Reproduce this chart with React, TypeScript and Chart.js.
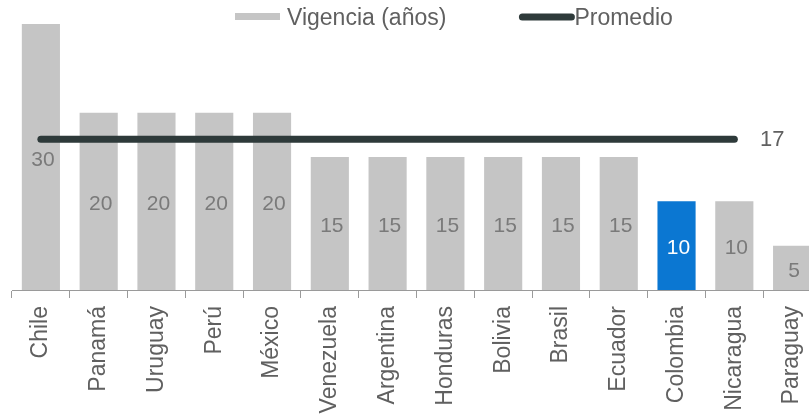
import React, { useEffect, useRef } from "react";
import { Chart, registerables } from "chart.js";

Chart.register(...registerables);

const categories = [
  "Chile", "Panamá", "Uruguay", "Perú", "México", "Venezuela", "Argentina",
  "Honduras", "Bolivia", "Brasil", "Ecuador", "Colombia", "Nicaragua", "Paraguay",
];
const vigencia = [30, 20, 20, 20, 20, 15, 15, 15, 15, 15, 15, 10, 10, 5];
const promedio = [17, 17, 17, 17, 17, 17, 17, 17, 17, 17, 17, 17, 17, null];
const promedioLabel = "17";
const highlighted = "Colombia";

const FONT = '"Liberation Sans", Arial, sans-serif';
const BAR_GRAY = "#c5c5c5";
const BAR_BLUE = "#0b77d2";
const LINE_COLOR = "#2e3a3a";
const TEXT_COLOR = "#606060";

const valueLabels = {
  id: "valueLabels",
  afterDatasetsDraw(chart: any) {
    const ctx = chart.ctx;
    const meta = chart.getDatasetMeta(0);
    ctx.save();
    ctx.font = `21px ${FONT}`;
    ctx.textAlign = "center";
    ctx.textBaseline = "middle";
    meta.data.forEach((bar: any, i: number) => {
      const { x, y, base } = bar.getProps(["x", "y", "base"], true);
      ctx.fillStyle = categories[i] === highlighted ? "#ffffff" : "#7a7a7a";
      ctx.fillText(String(vigencia[i]), x + 2, (y + base) / 2 + 3);
    });
    const lmeta = chart.getDatasetMeta(1);
    let last: any = null;
    lmeta.data.forEach((p: any, i: number) => {
      if (promedio[i] !== null) last = p;
    });
    if (last) {
      ctx.fillStyle = TEXT_COLOR;
      ctx.font = `22px ${FONT}`;
      ctx.fillText(promedioLabel, last.x + 38, last.y + 1);
    }
    ctx.restore();
  },
};

const customLegend = {
  id: "customLegend",
  afterDraw(chart: any) {
    const ctx = chart.ctx;
    const ds = chart.data.datasets;
    ctx.save();
    ctx.font = `23px ${FONT}`;
    ctx.textBaseline = "middle";
    ctx.textAlign = "left";
    const cy = 19;
    let x = 235;
    ctx.fillStyle = BAR_GRAY;
    ctx.fillRect(x, 13, 45, 7);
    x += 52;
    ctx.fillStyle = TEXT_COLOR;
    ctx.fillText(ds[0].label, x, cy);
    x += ctx.measureText(ds[0].label).width + 73;
    ctx.strokeStyle = LINE_COLOR;
    ctx.lineWidth = 7;
    ctx.lineCap = "round";
    ctx.beginPath();
    ctx.moveTo(x + 3, 17);
    ctx.lineTo(x + 52, 17);
    ctx.stroke();
    ctx.fillStyle = TEXT_COLOR;
    ctx.fillText(ds[1].label, x + 55, cy);
    ctx.restore();
  },
};

export default function App() {
  const ref = useRef<HTMLCanvasElement>(null);

  useEffect(() => {
    if (!ref.current) return;
    const chart = new Chart(ref.current, {
      type: "bar",
      data: {
        labels: categories,
        datasets: [
          {
            type: "bar",
            label: "Vigencia (años)",
            data: vigencia,
            backgroundColor: categories.map((c) => (c === highlighted ? BAR_BLUE : BAR_GRAY)),
            categoryPercentage: 1,
            barPercentage: 0.66,
            order: 2,
          },
          {
            type: "line",
            label: "Promedio",
            data: promedio as any,
            borderColor: LINE_COLOR,
            backgroundColor: LINE_COLOR,
            borderWidth: 7,
            borderCapStyle: "round",
            pointRadius: 0,
            spanGaps: false,
            order: 1,
          },
        ],
      },
      options: {
        animation: false,
        responsive: false,
        layout: { padding: { top: 24, left: 12, right: 9, bottom: 0 } },
        plugins: {
          legend: { display: false },
          tooltip: { enabled: false },
        },
        scales: {
          x: {
            offset: true,
            grid: {
              offset: true,
              drawOnChartArea: false,
              tickLength: 8,
              color: "#9a9a9a",
            },
            border: { display: true, color: "#9a9a9a", width: 1 },
            ticks: {
              minRotation: 90,
              maxRotation: 90,
              autoSkip: false,
              padding: 8,
              color: TEXT_COLOR,
              font: { family: FONT, size: 23 },
            },
            afterFit: (s: any) => {
              s.height = 124;
            },
          },
          y: {
            display: false,
            min: 0,
            max: 30,
          },
        },
      },
      plugins: [valueLabels, customLegend],
    });
    return () => chart.destroy();
  }, []);

  return (
    <div
      style={{
        position: "fixed",
        left: 0,
        top: 0,
        width: 809,
        height: 414,
        overflow: "hidden",
        background: "#ffffff",
      }}
    >
      <canvas ref={ref} width={830} height={414} style={{ width: 830, height: 414, display: "block" }} />
    </div>
  );
}
